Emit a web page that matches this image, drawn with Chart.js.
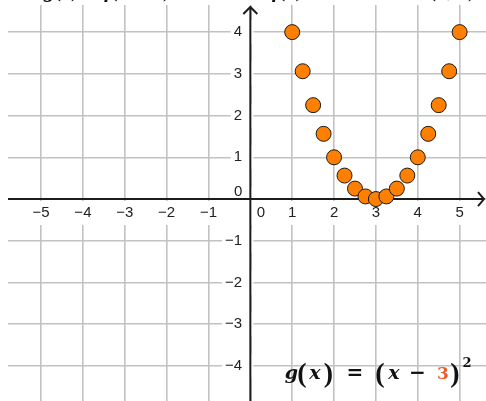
<!DOCTYPE html>
<html lang="en">
<head>
  <meta charset="UTF-8" />
  <title>g(x) = (x - 3)^2</title>
  <script src="https://cdn.jsdelivr.net/npm/chart.js"></script>
  <style>
    body {
      margin: 0;
      background: #fff;
    }
    .chart-container {
      position: relative;
      width: 486px;
      height: 401px;
    }
  </style>
</head>
<body>
  <div class="chart-container">
    <canvas id="parabolaChart"></canvas>
  </div>

  <script>
    // ------------------------------------------
    // Data
    // ------------------------------------------
    const X_VALUES = [1, 1.25, 1.5, 1.75, 2, 2.25, 2.5, 2.75, 3, 3.25, 3.5, 3.75, 4, 4.25, 4.5, 4.75, 5];
    const Y_VALUES = [4, 3.0625, 2.25, 1.5625, 1, 0.5625, 0.25, 0.0625, 0, 0.0625, 0.25, 0.5625, 1, 1.5625, 2.25, 3.0625, 4];
    const X_TICKS = [-5, -4, -3, -2, -1, 0, 1, 2, 3, 4, 5];
    const Y_TICKS = [-4, -3, -2, -1, 0, 1, 2, 3, 4];
    const X_RANGE = [-5.79, 5.63];
    const Y_RANGE = [-4.84, 4.65];

    const FORMULA_SHIFT = '3';
    const TOP_TEXT = ['g(x) = f(x − 3)', 'f(x)', '(3, 0)'];

    const AXIS_COLOR = '#1c1c1c';
    const GRID_COLOR = '#c2c2c2';
    const POINT_FILL = '#ff8000';
    const SHIFT_COLOR = '#ee5a28';
    const LABEL_FONT = { family: '"Liberation Sans", Arial, sans-serif', size: 15 };

    function tickLabel(v) {
      if (v === 0) return '';          // the two zeros are placed by hand below
      return v < 0 ? '\u2212' + Math.abs(v) : String(v);
    }

    // centred axes should not eat into the plot area
    function noPadding(s) {
      s.paddingLeft = s.paddingRight = s.paddingTop = s.paddingBottom = 0;
    }

    // ------------------------------------------
    // Axes with arrows, zero labels, formula
    // ------------------------------------------
    const axesPlugin = {
      id: 'axesArrows',
      beforeDatasetsDraw(chart) {
        const { ctx, chartArea } = chart;
        const x0 = chart.scales.x.getPixelForValue(0);
        const y0 = chart.scales.y.getPixelForValue(0);
        ctx.save();
        ctx.strokeStyle = AXIS_COLOR;
        ctx.lineWidth = 2;
        // x axis
        ctx.beginPath();
        ctx.moveTo(chartArea.left, y0);
        ctx.lineTo(chartArea.right - 2, y0);
        ctx.stroke();
        ctx.beginPath();
        ctx.moveTo(chartArea.right - 8, y0 - 7);
        ctx.lineTo(chartArea.right - 2, y0);
        ctx.lineTo(chartArea.right - 8, y0 + 7);
        ctx.stroke();
        // y axis
        ctx.beginPath();
        ctx.moveTo(x0, chartArea.bottom);
        ctx.lineTo(x0, chartArea.top + 2);
        ctx.stroke();
        ctx.beginPath();
        ctx.moveTo(x0 - 7, chartArea.top + 9);
        ctx.lineTo(x0, chartArea.top + 2);
        ctx.lineTo(x0 + 7, chartArea.top + 9);
        ctx.stroke();

        // zero labels
        ctx.font = `${LABEL_FONT.size}px ${LABEL_FONT.family}`;
        ctx.fillStyle = '#222';
        ctx.textBaseline = 'middle';
        ctx.textAlign = 'right';
        ctx.fillText('0', x0 - 8, y0 - 7);
        ctx.textAlign = 'center';
        ctx.fillText('0', x0 + 10.5, y0 + 13.5);
        ctx.restore();
      },
      afterDraw(chart) {
        const { ctx } = chart;
        ctx.save();
        ctx.textBaseline = 'alphabetic';
        ctx.textAlign = 'left';

        // cut-off heading at the very top
        ctx.fillStyle = '#111';
        ctx.font = 'italic bold 22px "Liberation Serif", serif';
        ctx.fillText(TOP_TEXT[0], 44, -3);
        ctx.fillText(TOP_TEXT[1], 272, -3);
        ctx.fillText(TOP_TEXT[2], 430, -3);

        // formula bottom right, glyph by glyph (centre x, baseline y)
        const it = 'italic bold 19px "DejaVu Serif", serif';
        const op = 'bold 20px "DejaVu Serif", serif';
        const dig = 'bold 17px "DejaVu Serif", serif';
        const par = 'bold 28px "Liberation Serif", serif';
        const sup = 'bold 13px "DejaVu Serif", serif';
        const base = 378.5;
        const parts = [
          ['g', 291.5, base, it, '#111'],
          ['(', 302, base + 3, par, '#111'],
          ['x', 315, base, it, '#111'],
          [')', 328.5, base + 3, par, '#111'],
          ['=', 355, base, op, '#111'],
          ['(', 380, base + 3, par, '#111'],
          ['x', 394, base, it, '#111'],
          ['\u2212', 417.5, base, op, '#111'],
          [FORMULA_SHIFT, 443, base, dig, SHIFT_COLOR],
          [')', 455, base + 3, par, '#111'],
          ['2', 467, base - 12, sup, '#111']
        ];
        ctx.textAlign = 'center';
        parts.forEach(([txt, x, y, font, color]) => {
          ctx.font = font;
          ctx.fillStyle = color;
          ctx.fillText(txt, x, y);
        });
        ctx.restore();
      }
    };

    // ------------------------------------------
    // Chart
    // ------------------------------------------
    window.addEventListener('DOMContentLoaded', () => {
      const ctx = document.getElementById('parabolaChart').getContext('2d');

      new Chart(ctx, {
        type: 'scatter',
        data: {
          datasets: [{
            label: 'g(x)',
            data: X_VALUES.map((x, i) => ({ x: x, y: Y_VALUES[i] })),
            backgroundColor: POINT_FILL,
            borderColor: '#1a1a1a',
            borderWidth: 1,
            pointRadius: 7.5,
            pointHoverRadius: 7.5
          }]
        },
        options: {
          responsive: true,
          maintainAspectRatio: false,
          animation: false,
          layout: {
            autoPadding: false,
            padding: { left: 8, top: 5, right: 0, bottom: 0 }
          },
          scales: {
            x: {
              type: 'linear',
              position: { y: 0 },
              min: X_RANGE[0],
              max: X_RANGE[1],
              afterBuildTicks: s => { s.ticks = X_TICKS.map(v => ({ value: v })); },
              afterFit: noPadding,
              grid: { color: GRID_COLOR, lineWidth: 1.6, drawTicks: false },
              border: { display: false },
              ticks: {
                callback: tickLabel,
                autoSkip: false,
                maxRotation: 0,
                padding: 5,
                color: '#222',
                font: LABEL_FONT,
                showLabelBackdrop: true,
                backdropColor: '#fff',
                backdropPadding: 3
              }
            },
            y: {
              type: 'linear',
              position: { x: 0 },
              min: Y_RANGE[0],
              max: Y_RANGE[1],
              afterBuildTicks: s => { s.ticks = Y_TICKS.map(v => ({ value: v })); },
              afterFit: noPadding,
              grid: { color: GRID_COLOR, lineWidth: 1.6, drawTicks: false },
              border: { display: false },
              ticks: {
                // trailing spaces keep the labels off the axis line
                callback: v => (v === 0 ? '' : tickLabel(v) + '  '),
                autoSkip: false,
                color: '#222',
                font: LABEL_FONT,
                showLabelBackdrop: true,
                backdropColor: '#fff',
                backdropPadding: 3
              }
            }
          },
          plugins: {
            legend: { display: false },
            tooltip: { enabled: false }
          }
        },
        plugins: [axesPlugin]
      });
    });
  </script>
</body>
</html>
